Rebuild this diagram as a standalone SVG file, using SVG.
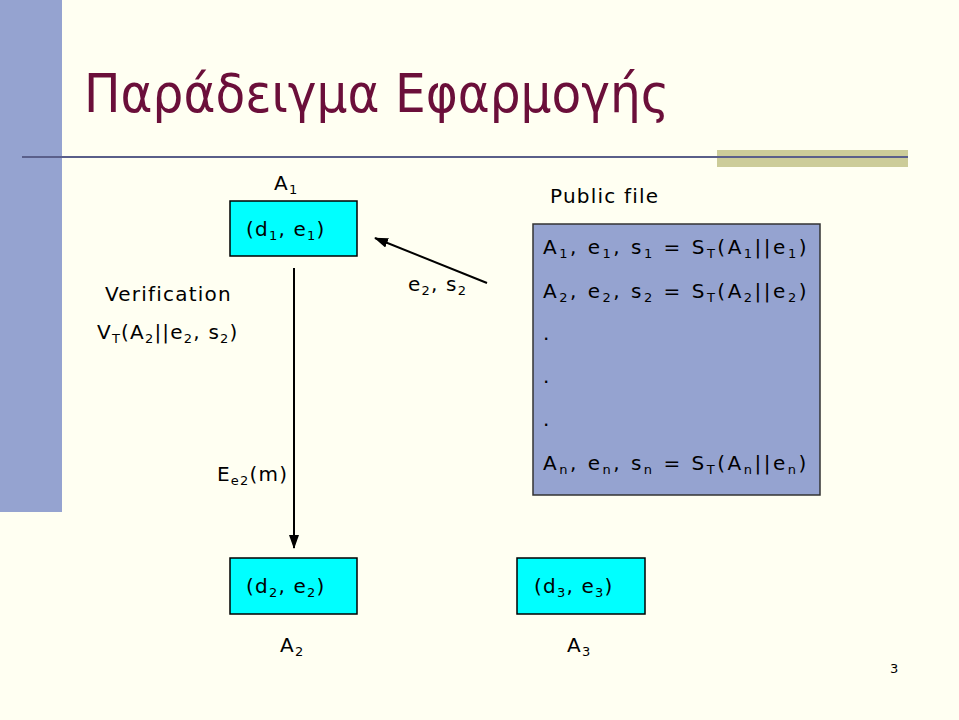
<svg xmlns="http://www.w3.org/2000/svg" width="959" height="720" viewBox="0 0 959 720">
<style>
text{font-family:"DejaVu Sans",sans-serif;fill:#000;font-size:20px;letter-spacing:1.2px}
.b{fill:#00FFFF;stroke:#000;stroke-width:1.5}
.s{font-size:13px}
</style>
<defs><marker id="ah" markerWidth="14" markerHeight="10" refX="13" refY="5" orient="auto" markerUnits="userSpaceOnUse"><path d="M0,0L14,5L0,10z" fill="#000"/></marker></defs>
<rect width="959" height="720" fill="#FFFFF2"/>
<rect x="0" y="0" width="62" height="512" fill="#95A3D0"/>
<rect x="717" y="150" width="191" height="17" fill="#CCCC99"/>
<line x1="22" y1="157" x2="908" y2="157" stroke="#5A5F8A" stroke-width="2"/>
<text x="84" y="112" style="font-family:'DejaVu Sans Condensed','DejaVu Sans',sans-serif;font-size:54px;letter-spacing:0;fill:#6B0F3A">Παράδειγμα Εφαρμογής</text>
<g id="n1"><text x="274" y="190">A<tspan class="s" dy="4">1</tspan></text><rect class="b" x="230" y="201" width="127" height="55"/><text x="246" y="236">(d<tspan class="s" dy="4">1</tspan><tspan dy="-4">, e</tspan><tspan class="s" dy="4">1</tspan><tspan dy="-4">)</tspan></text></g>
<g id="n2"><rect class="b" x="230" y="558" width="127" height="56"/><text x="246" y="593">(d<tspan class="s" dy="4">2</tspan><tspan dy="-4">, e</tspan><tspan class="s" dy="4">2</tspan><tspan dy="-4">)</tspan></text><text x="280" y="652">A<tspan class="s" dy="4">2</tspan></text></g>
<g id="n3"><rect class="b" x="517" y="558" width="128" height="56"/><text x="534" y="593">(d<tspan class="s" dy="4">3</tspan><tspan dy="-4">, e</tspan><tspan class="s" dy="4">3</tspan><tspan dy="-4">)</tspan></text><text x="567" y="652">A<tspan class="s" dy="4">3</tspan></text></g>
<g id="pf"><text x="550" y="203">Public file</text>
<rect x="533" y="224" width="287" height="271" fill="#95A3D0" stroke="#333" stroke-width="1.5"/>
<text x="543" y="254" style="letter-spacing:2.5px">A<tspan class="s" dy="4">1</tspan><tspan dy="-4">, e</tspan><tspan class="s" dy="4">1</tspan><tspan dy="-4">, s</tspan><tspan class="s" dy="4">1</tspan><tspan dy="-4"> = S</tspan><tspan class="s" dy="4">T</tspan><tspan dy="-4">(A</tspan><tspan class="s" dy="4">1</tspan><tspan dy="-4">||e</tspan><tspan class="s" dy="4">1</tspan><tspan dy="-4">)</tspan></text>
<text x="543" y="298" style="letter-spacing:2.5px">A<tspan class="s" dy="4">2</tspan><tspan dy="-4">, e</tspan><tspan class="s" dy="4">2</tspan><tspan dy="-4">, s</tspan><tspan class="s" dy="4">2</tspan><tspan dy="-4"> = S</tspan><tspan class="s" dy="4">T</tspan><tspan dy="-4">(A</tspan><tspan class="s" dy="4">2</tspan><tspan dy="-4">||e</tspan><tspan class="s" dy="4">2</tspan><tspan dy="-4">)</tspan></text>
<text x="543" y="340">.</text><text x="543" y="383">.</text><text x="543" y="426">.</text>
<text x="543" y="470" style="letter-spacing:2.5px">A<tspan class="s" dy="4">n</tspan><tspan dy="-4">, e</tspan><tspan class="s" dy="4">n</tspan><tspan dy="-4">, s</tspan><tspan class="s" dy="4">n</tspan><tspan dy="-4"> = S</tspan><tspan class="s" dy="4">T</tspan><tspan dy="-4">(A</tspan><tspan class="s" dy="4">n</tspan><tspan dy="-4">||e</tspan><tspan class="s" dy="4">n</tspan><tspan dy="-4">)</tspan></text></g>
<g id="labels">
<text x="105" y="301">Verification</text>
<text x="97" y="339">V<tspan class="s" dy="4">T</tspan><tspan dy="-4">(A</tspan><tspan class="s" dy="4">2</tspan><tspan dy="-4">||e</tspan><tspan class="s" dy="4">2</tspan><tspan dy="-4">, s</tspan><tspan class="s" dy="4">2</tspan><tspan dy="-4">)</tspan></text>
<text x="408" y="291">e<tspan class="s" dy="4">2</tspan><tspan dy="-4">, s</tspan><tspan class="s" dy="4">2</tspan></text>
<text x="217" y="481">E<tspan class="s" dy="4">e2</tspan><tspan dy="-4">(m)</tspan></text>
<text x="890" y="673" style="font-size:13px">3</text></g>
<g id="connectors" stroke="#000" stroke-width="2" fill="none">
<line x1="294" y1="268" x2="294" y2="548" marker-end="url(#ah)"/>
<line x1="487" y1="283" x2="375" y2="238" marker-end="url(#ah)"/>
</g>
</svg>
